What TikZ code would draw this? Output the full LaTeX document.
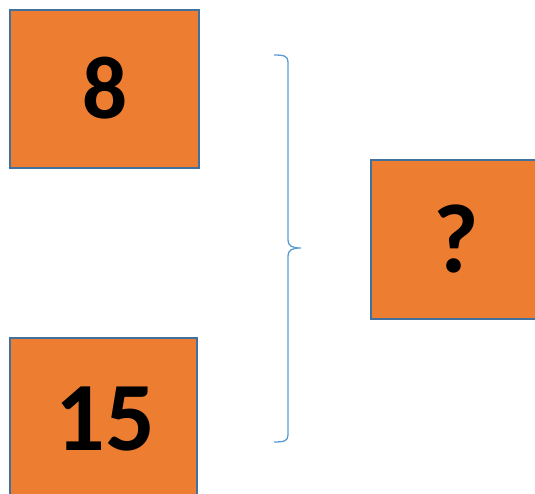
\documentclass[tikz,border=0pt]{standalone}
\usepackage{fontspec}
\setmainfont{Carlito}
\definecolor{boxfill}{HTML}{ED7D31}
\definecolor{boxline}{HTML}{41719C}
\definecolor{bracecol}{HTML}{5B9BD5}
\begin{document}
\begin{tikzpicture}[x=1pt,y=-1pt,
  numbox/.style={draw=boxline,fill=boxfill,line width=2pt},
  numtext/.style={font=\fontsize{98}{98}\selectfont\bfseries,inner sep=0pt}]
\useasboundingbox (0,0) rectangle (535,494);
\clip (0,0) rectangle (535,494);
\draw[numbox] (10,10) rectangle (199,168);
\draw[numbox] (10,338) rectangle (197,500);
\draw[numbox] (371,160) rectangle (540,319);
\node[numtext,font=\fontsize{89}{89}\selectfont\bfseries] (a) at (105,88) {8};
\node[numtext] (b) at (105,419) {15};
\node[numtext] (c) at (456,239) {?};
\draw[bracecol,line width=1.3pt] (274,55) .. controls (284,55) and (288,56) .. (288,62)
  -- (288,240) .. controls (288,246) and (292,248) .. (301,248)
  .. controls (292,248) and (288,250) .. (288,256)
  -- (288,435) .. controls (288,441) and (284,442) .. (274,442);
\end{tikzpicture}
\end{document}
